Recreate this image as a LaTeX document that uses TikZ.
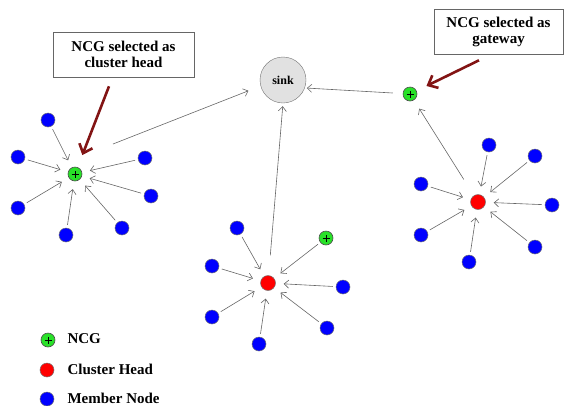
\documentclass[tikz,border=0pt]{standalone}
\usepackage{fontspec}
\setmainfont{Liberation Serif}
\usetikzlibrary{arrows.meta,patterns}
\definecolor{ncggreen}{RGB}{40,225,40}
\definecolor{darkarrow}{RGB}{130,20,20}
\definecolor{sinkfill}{RGB}{225,225,225}
\tikzset{
  member/.style={circle,fill=blue,draw=black!55,line width=0.5pt,inner sep=0pt,minimum size=14pt},
  chead/.style={circle,fill=red,draw=black!55,line width=0.5pt,inner sep=0pt,minimum size=15pt},
  ncg/.style={circle,fill=ncggreen,draw=black!70,line width=0.6pt,inner sep=0pt,minimum size=14pt,
    path picture={\draw[line width=1pt,black] ([xshift=-3.5pt]path picture bounding box.center) -- ([xshift=3.5pt]path picture bounding box.center);
                  \draw[line width=1pt,black] ([yshift=-3.5pt]path picture bounding box.center) -- ([yshift=3.5pt]path picture bounding box.center);}},
  link/.style={draw=black!60,line width=0.6pt,-{Straight Barb[length=4.5pt,width=8pt]},shorten <=3pt,shorten >=8pt},
  callarrow/.style={draw=darkarrow,line width=2.6pt,-{Straight Barb[length=8pt,width=14pt]}},
  callbox/.style={draw=black!60,line width=0.6pt,fill=white,font=\bfseries\fontsize{15}{16}\selectfont,align=center},
  legtext/.style={anchor=west,font=\bfseries\fontsize{15}{16}\selectfont}
}
\begin{document}
\begin{tikzpicture}[x=1pt,y=-1pt]
\useasboundingbox (0,0) rectangle (564,405);
% sink
\node[circle,draw=black!55,fill=sinkfill,minimum size=46pt,inner sep=0pt,font=\bfseries\fontsize{12}{13}\selectfont] (sink) at (283,80) {sink};
% cluster 1 (left)
\node[ncg] (h1) at (75,174) {};
\node[member] (m11) at (48,120) {};
\node[member] (m12) at (18,157) {};
\node[member] (m13) at (18,208) {};
\node[member] (m14) at (66,235) {};
\node[member] (m15) at (122,228) {};
\node[member] (m16) at (151,196) {};
\node[member] (m17) at (145,158) {};
\foreach \m in {m11,m12,m13,m14,m15,m16,m17} \draw[link] (\m) -- (h1);
% cluster 2 (middle)
\node[chead] (h2) at (268,283) {};
\node[member] (m21) at (237,228) {};
\node[member] (m22) at (212,266) {};
\node[member] (m23) at (212,317) {};
\node[member] (m24) at (259,344) {};
\node[member] (m25) at (327,328) {};
\node[member] (m26) at (343,287) {};
\node[ncg] (n2) at (326,238) {};
\foreach \m in {m21,m22,m23,m24,m25,m26,n2} \draw[link] (\m) -- (h2);
% cluster 3 (right)
\node[chead] (h3) at (478,202) {};
\node[member] (m31) at (489,145) {};
\node[member] (m32) at (535,156) {};
\node[member] (m33) at (552,205) {};
\node[member] (m34) at (535,247) {};
\node[member] (m35) at (469,262) {};
\node[member] (m36) at (421,235) {};
\node[member] (m37) at (421,184) {};
\foreach \m in {m31,m32,m33,m34,m35,m36,m37} \draw[link] (\m) -- (h3);
% gateway
\node[ncg] (gw) at (410,94) {};
% routes to sink
\coordinate (c1out) at (113,144);
\draw[link,shorten <=0pt,shorten >=13pt] (c1out) -- (sink.195);
\draw[link,shorten <=20pt,shorten >=3pt] (h2) -- (sink.south);
\draw[link,shorten <=19pt,shorten >=10pt] (h3) -- (gw);
\draw[link,shorten <=10pt,shorten >=2pt] (gw) -- (sink.-20);
% callouts
\node[callbox,minimum width=141pt,minimum height=45pt] (b1) at (123.5,54.5) {NCG selected as\\cluster head};
\node[callbox,minimum width=129pt,minimum height=45pt] (b2) at (498.5,31.5) {NCG selected as\\gateway};
\draw[callarrow,shorten >=13pt] ([xshift=-14.5pt,yshift=-9pt]b1.south) -- (h1);
\draw[callarrow,shorten >=11pt] ([xshift=-19.5pt,yshift=-6pt]b2.south) -- (gw);
% legend
\node[ncg] (l1) at (48,340) {};
\node[chead,minimum size=14pt] (l2) at (47,370) {};
\node[member] (l3) at (47,399) {};
\node[legtext] (t1) at (64,339) {NCG};
\node[legtext] (t2) at (64,369) {Cluster Head};
\node[legtext] (t3) at (64,398) {Member Node};
\end{tikzpicture}
\end{document}
